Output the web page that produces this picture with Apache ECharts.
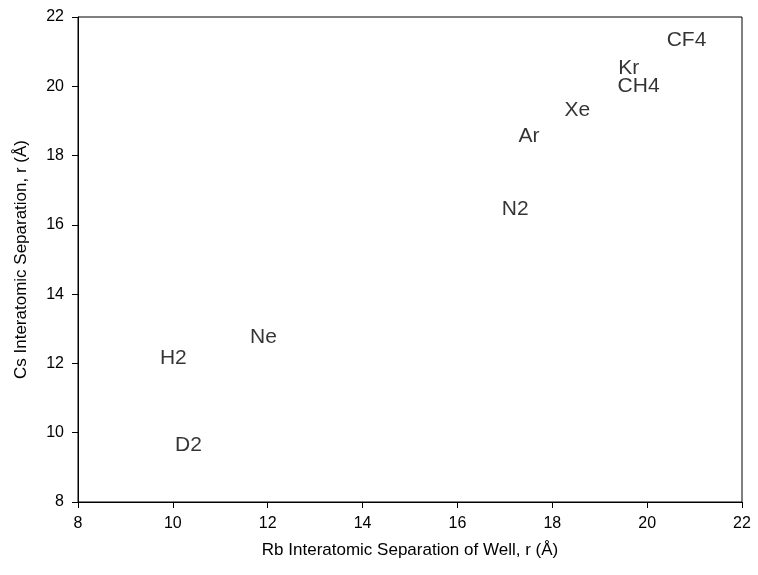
<!DOCTYPE html>
<html>
<head>
<meta charset="utf-8">
<script src="https://cdn.jsdelivr.net/npm/echarts@6/dist/echarts.min.js"></script>
<style>html,body{margin:0;padding:0;background:#fff}#c{width:758px;height:575px}</style>
</head>
<body>
<div id="c"></div>
<script>
const names = ["CF4","Kr","CH4","Xe","Ar","N2","Ne","H2","D2"];
const rbSep = [20.83,19.61,19.82,18.53,17.51,17.22,11.91,10.01,10.33];
const csSep = [21.34,20.53,20.0,19.32,18.56,16.46,12.76,12.16,9.64];
const xTitle = "Rb Interatomic Separation of Well, r (Å)";
const yTitle = "Cs Interatomic Separation, r (Å)";

const data = names.map((n,i)=>[rbSep[i], csSep[i], n]);
const font = "Liberation Sans, Arial, sans-serif";
const chart = echarts.init(document.getElementById('c'));
const axisCommon = {
  min: 8, max: 22, interval: 2,
  axisLine: {show: true, onZero: false, lineStyle: {color: '#000', width: 1}},
  axisTick: {show: true, length: 6, lineStyle: {color: '#000'}},
  splitLine: {show: false},
  nameLocation: 'middle',
  nameTextStyle: {fontFamily: font, fontSize: 17, color: '#000'}
};
chart.setOption({
  animation: false,
  backgroundColor: '#fff',
  grid: {left: 78, right: 16, top: 17, bottom: 73, show: true, borderColor: '#000', borderWidth: 1},
  xAxis: Object.assign({}, axisCommon, {
    type: 'value', name: xTitle, nameGap: 40,
    axisLabel: {fontFamily: font, fontSize: 16, color: '#000', margin: 14}
  }),
  yAxis: Object.assign({}, axisCommon, {
    type: 'value', name: yTitle, nameGap: 48,
    axisLabel: {fontFamily: font, fontSize: 16, color: '#000', margin: 14}
  }),
  series: [{
    type: 'scatter',
    symbolSize: 0,
    data: data,
    label: {
      show: true, position: 'inside',
      formatter: p => p.data[2],
      fontFamily: font, fontSize: 21, color: '#000'
    }
  }]
});
</script>
</body>
</html>
